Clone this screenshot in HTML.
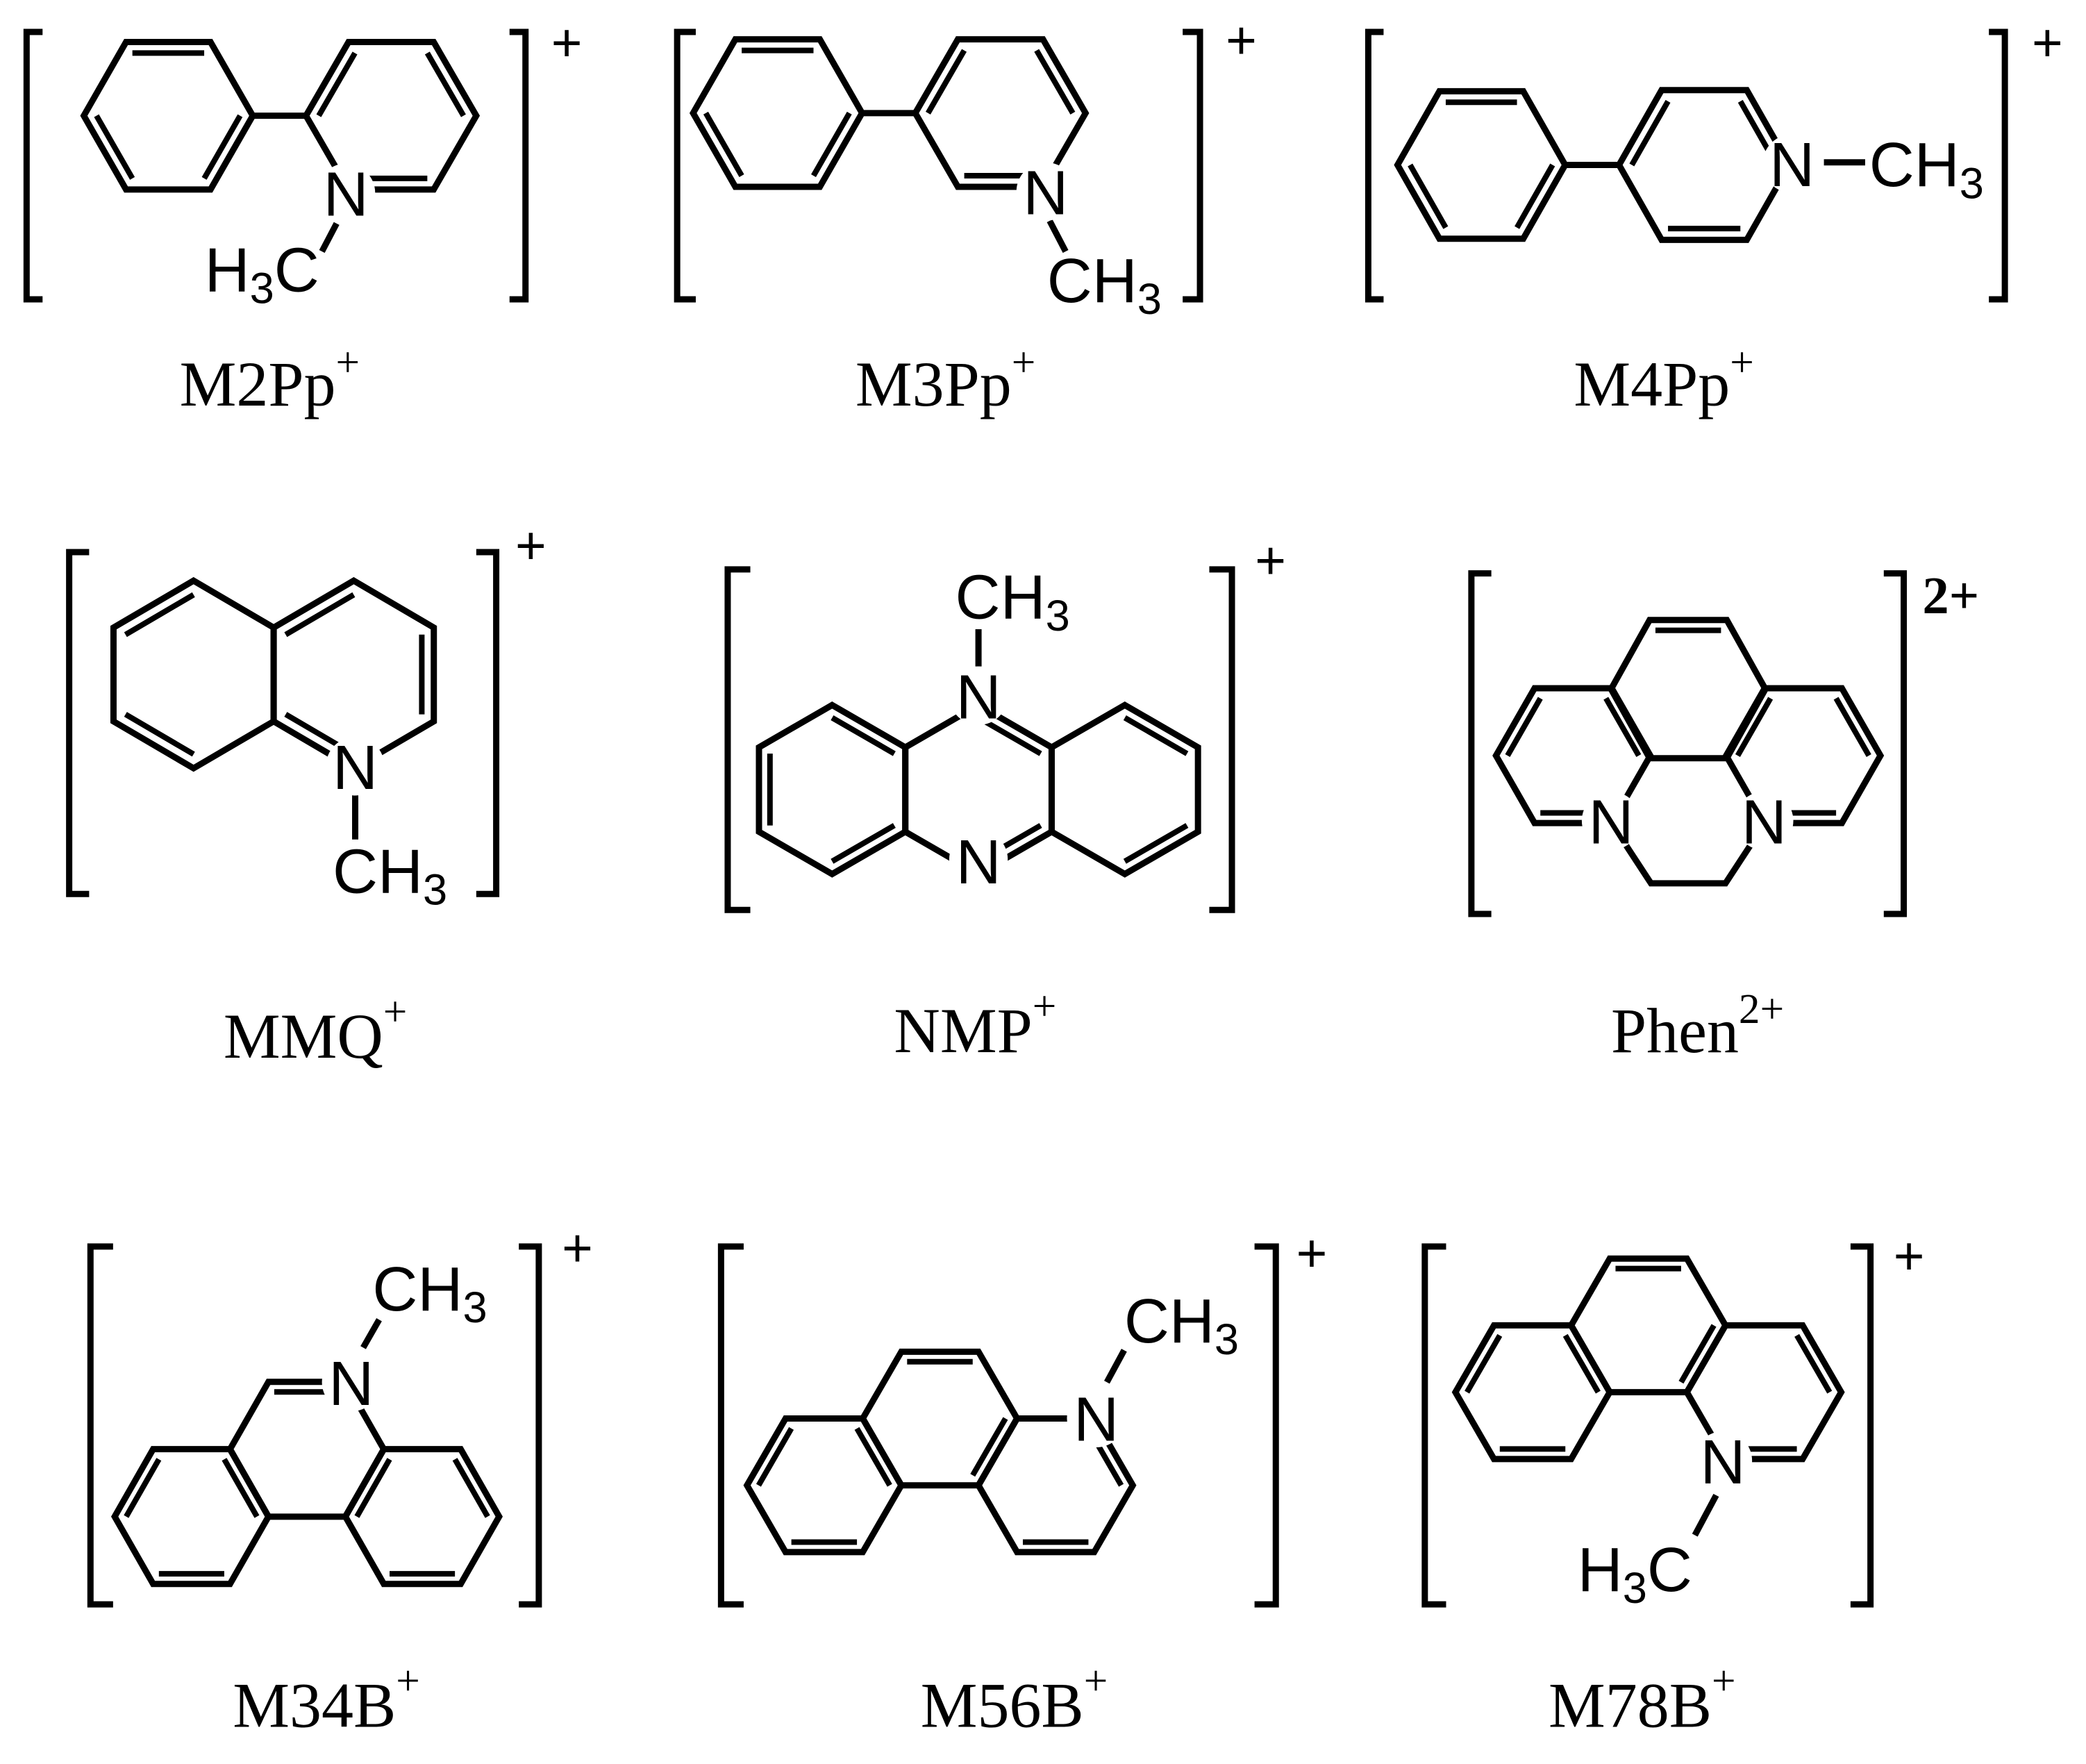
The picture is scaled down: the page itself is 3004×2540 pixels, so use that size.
<!DOCTYPE html>
<html><head><meta charset="utf-8">
<style>
html,body{margin:0;padding:0;background:#fff;}
svg{display:block;}
svg path, svg line{vector-effect:non-scaling-stroke;stroke-width:9px;stroke:#000;fill:none;stroke-linejoin:miter;stroke-linecap:butt;}
svg path.in{stroke-width:8px;}
.a{font-family:"Liberation Sans",Arial,sans-serif;font-size:47px;fill:#000;}
.l{font-family:"Liberation Serif","Times New Roman",serif;font-size:48px;fill:#000;}
.p{font-family:"Liberation Sans",Arial,sans-serif;font-size:40px;fill:#000;}
circle.m{fill:#fff;stroke:none;}
</style></head>
<body>
<svg width="3004" height="2540" viewBox="0 0 1568 1326" preserveAspectRatio="none" xmlns="http://www.w3.org/2000/svg">
<rect x="0" y="0" width="1568" height="1326" fill="#fff"/>

<!-- ============ M2Pp ============ -->
<g transform="translate(126.5,87) scale(63.5,64)">
<path d="M1,0L.5,.866L-.5,.866L-1,0L-.5,-.866L.5,-.866Z"/>
<path class="in" d="M-.425,-.736L.425,-.736M-.425,.736L-.85,0M.85,0L.425,.736"/>
</g>
<g transform="translate(294,87) scale(64,64)">
<path d="M1,0L.5,.866L-.5,.866L-1,0L-.5,-.866L.5,-.866Z"/>
<path class="in" d="M-.85,0L-.425,-.736M.425,-.736L.85,0M.425,.736L-.425,.736"/>
</g>
<line x1="190" y1="87" x2="230" y2="87"/>
<line x1="253" y1="168" x2="242" y2="189"/>
<circle class="m" cx="260" cy="145" r="22"/>
<text class="a" x="260" y="162" text-anchor="middle">N</text>
<text class="a" x="240" y="219" text-anchor="end">H<tspan font-size="33" dy="9">3</tspan><tspan dy="-9">C</tspan></text>
<path d="M32,24H20V225H32M383,24H395V225H383"/>
<text class="p" x="426" y="46" text-anchor="middle">+</text>
<text class="l" x="135" y="305">M2Pp<tspan font-size="32" dy="-22">+</tspan></text>

<!-- ============ M3Pp ============ -->
<g transform="translate(584.5,85) scale(63.5,64)">
<path d="M1,0L.5,.866L-.5,.866L-1,0L-.5,-.866L.5,-.866Z"/>
<path class="in" d="M-.425,-.736L.425,-.736M-.425,.736L-.85,0M.85,0L.425,.736"/>
</g>
<g transform="translate(752,85) scale(64,64)">
<path d="M1,0L.5,.866L-.5,.866L-1,0L-.5,-.866L.5,-.866Z"/>
<path class="in" d="M-.85,0L-.425,-.736M.425,-.736L.85,0M.425,.736L-.425,.736"/>
</g>
<line x1="648" y1="85" x2="688" y2="85"/>
<line x1="789" y1="166" x2="801" y2="189"/>
<circle class="m" cx="786" cy="144" r="22"/>
<text class="a" x="786" y="161" text-anchor="middle">N</text>
<text class="a" x="787" y="227">CH<tspan font-size="33" dy="9">3</tspan></text>
<path d="M523,24H509V225H523M889,24H902V225H889"/>
<text class="p" x="933" y="44" text-anchor="middle">+</text>
<text class="l" x="643" y="305">M3Pp<tspan font-size="32" dy="-22">+</tspan></text>

<!-- ============ M4Pp ============ -->
<g transform="translate(1113.5,124) scale(63,64)">
<path d="M1,0L.5,.866L-.5,.866L-1,0L-.5,-.866L.5,-.866Z"/>
<path class="in" d="M-.425,-.736L.425,-.736M-.425,.736L-.85,0M.85,0L.425,.736"/>
</g>
<g transform="translate(1281,124) scale(64,65)">
<path d="M1,0L.5,.866L-.5,.866L-1,0L-.5,-.866L.5,-.866Z"/>
<path class="in" d="M-.85,0L-.425,-.736M.425,-.736L.85,0M.425,.736L-.425,.736"/>
</g>
<line x1="1176" y1="124" x2="1218" y2="124"/>
<line x1="1371" y1="122" x2="1402" y2="122"/>
<circle class="m" cx="1347" cy="123" r="22"/>
<text class="a" x="1347" y="140" text-anchor="middle">N</text>
<text class="a" x="1405" y="140">CH<tspan font-size="33" dy="9">3</tspan></text>
<path d="M1040,24H1028.5V225H1040M1495,24H1507V225H1495"/>
<text class="p" x="1539" y="46" text-anchor="middle">+</text>
<text class="l" x="1183" y="305">M4Pp<tspan font-size="32" dy="-22">+</tspan></text>

<!-- ============ MMQ ============ -->
<g transform="translate(145.5,507) scale(69.5,70.5)">
<path d="M0,-1L.866,-.5L.866,.5L0,1L-.866,.5L-.866,-.5Z"/>
<path class="in" d="M-.736,-.425L0,-.85M0,.85L-.736,.425"/>
</g>
<g transform="translate(265.9,507) scale(69.5,70.5)">
<path d="M0,-1L.866,-.5L.866,.5L0,1L-.866,.5L-.866,-.5Z"/>
<path class="in" d="M-.736,-.425L0,-.85M.736,-.425L.736,.425M0,.85L-.736,.425"/>
</g>
<line x1="267" y1="596" x2="267" y2="631"/>
<circle class="m" cx="267" cy="576" r="22"/>
<text class="a" x="267" y="593" text-anchor="middle">N</text>
<text class="a" x="250" y="671">CH<tspan font-size="33" dy="9">3</tspan></text>
<path d="M67,415H52V672H67M358,415H373V672H358"/>
<text class="p" x="399" y="424" text-anchor="middle">+</text>
<text class="l" x="168" y="795">MMQ<tspan font-size="32" dy="-24">+</tspan></text>

<!-- ============ NMP ============ -->
<g transform="translate(625.5,593.5) scale(63.5,63.5)">
<path d="M0,-1L.866,-.5L.866,.5L0,1L-.866,.5L-.866,-.5Z"/>
<path class="in" d="M0,-.85L.736,-.425M-.736,.425L-.736,-.425M.736,.425L0,.85"/>
</g>
<g transform="translate(735.5,593.5) scale(63.5,63.5)">
<path d="M0,-1L.866,-.5L.866,.5L0,1L-.866,.5L-.866,-.5Z"/>
<path class="in" d="M0,-.85L.736,-.425M.736,.425L0,.85"/>
</g>
<g transform="translate(845.5,593.5) scale(63.5,63.5)">
<path d="M0,-1L.866,-.5L.866,.5L0,1L-.866,.5L-.866,-.5Z"/>
<path class="in" d="M0,-.85L.736,-.425M.736,.425L0,.85"/>
</g>
<line x1="735.5" y1="473" x2="735.5" y2="501"/>
<circle class="m" cx="735.5" cy="523" r="22"/>
<circle class="m" cx="735.5" cy="646" r="22"/>
<text class="a" x="735.5" y="540" text-anchor="middle">N</text>
<text class="a" x="735.5" y="664" text-anchor="middle">N</text>
<text class="a" x="718" y="465">CH<tspan font-size="33" dy="9">3</tspan></text>
<path d="M564,428H547V684H564M909,428H926V684H909"/>
<text class="p" x="955" y="435" text-anchor="middle">+</text>
<text class="l" x="672" y="791">NMP<tspan font-size="32" dy="-24">+</tspan></text>

<!-- ============ Phen ============ -->
<g transform="translate(1269,518) scale(58,60)">
<path d="M1,0L.5,.866L-.5,.866L-1,0L-.5,-.866L.5,-.866Z"/>
<path class="in" d="M-.425,-.736L.425,-.736"/>
</g>
<g transform="translate(1182.5,568) scale(58,58.5)">
<path d="M1,0L.5,.866L-.5,.866L-1,0L-.5,-.866L.5,-.866Z"/>
<path class="in" d="M-.85,0L-.425,-.736M.425,-.736L.85,0M.425,.736L-.425,.736"/>
</g>
<g transform="translate(1355.5,568) scale(58,58.5)">
<path d="M1,0L.5,.866L-.5,.866L-1,0L-.5,-.866L.5,-.866Z"/>
<path class="in" d="M-.85,0L-.425,-.736M.425,-.736L.85,0M.425,.736L-.425,.736"/>
</g>
<path d="M1211.5,619L1241,664L1297,664L1326.5,619"/>
<circle class="m" cx="1211" cy="617" r="22"/>
<circle class="m" cx="1326" cy="617" r="22"/>
<text class="a" x="1211" y="634" text-anchor="middle">N</text>
<text class="a" x="1326" y="634" text-anchor="middle">N</text>
<path d="M1121,431H1106V687H1121M1416,431H1431V687H1416"/>
<text x="1445" y="461" font-family="'Liberation Serif',serif" font-weight="bold" font-size="40">2+</text>
<text class="l" x="1211" y="791">Phen<tspan font-size="32" dy="-22">2+</tspan></text>

<!-- ============ M34B ============ -->
<g transform="translate(144,1140) scale(57.8,58.5)">
<path d="M1,0L.5,.866L-.5,.866L-1,0L-.5,-.866L.5,-.866Z"/>
<path class="in" d="M-.85,0L-.425,-.736M.425,-.736L.85,0M.425,.736L-.425,.736"/>
</g>
<g transform="translate(317.4,1140) scale(57.8,58.5)">
<path d="M1,0L.5,.866L-.5,.866L-1,0L-.5,-.866L.5,-.866Z"/>
<path class="in" d="M-.85,0L-.425,-.736M.425,-.736L.85,0M.425,.736L-.425,.736"/>
</g>
<g transform="translate(230.7,1089.4) scale(57.8,58.5)">
<path d="M1,0L.5,.866L-.5,.866L-1,0L-.5,-.866L.5,-.866Z"/>
<path class="in" d="M-.425,-.736L.425,-.736"/>
</g>
<line x1="273" y1="1013" x2="285" y2="992"/>
<circle class="m" cx="264" cy="1039" r="22"/>
<text class="a" x="264" y="1056" text-anchor="middle">N</text>
<text class="a" x="280" y="985">CH<tspan font-size="33" dy="9">3</tspan></text>
<path d="M85,937H68V1206H85M390,937H405V1206H390"/>
<text class="p" x="434" y="952" text-anchor="middle">+</text>
<text class="l" x="175" y="1298">M34B<tspan font-size="32" dy="-24">+</tspan></text>

<!-- ============ M56B ============ -->
<g transform="translate(619.5,1116.5) scale(58,58)">
<path d="M1,0L.5,.866L-.5,.866L-1,0L-.5,-.866L.5,-.866Z"/>
<path class="in" d="M-.85,0L-.425,-.736M.425,-.736L.85,0M.425,.736L-.425,.736"/>
</g>
<g transform="translate(706.5,1066.3) scale(58,58)">
<path d="M1,0L.5,.866L-.5,.866L-1,0L-.5,-.866L.5,-.866Z"/>
<path class="in" d="M-.425,-.736L.425,-.736M.85,0L.425,.736"/>
</g>
<g transform="translate(793.5,1116.5) scale(58,58)">
<path d="M1,0L.5,.866L-.5,.866L-1,0L-.5,-.866L.5,-.866Z"/>
<path class="in" d="M.425,-.736L.85,0M.425,.736L-.425,.736"/>
</g>
<line x1="832" y1="1039" x2="845" y2="1015"/>
<circle class="m" cx="824" cy="1066" r="22"/>
<text class="a" x="824" y="1083" text-anchor="middle">N</text>
<text class="a" x="845" y="1009">CH<tspan font-size="33" dy="9">3</tspan></text>
<path d="M559,937H542V1206H559M943,937H959V1206H943"/>
<text class="p" x="986" y="956" text-anchor="middle">+</text>
<text class="l" x="692" y="1298">M56B<tspan font-size="32" dy="-24">+</tspan></text>

<!-- ============ M78B ============ -->
<g transform="translate(1152,1046.5) scale(58,58)">
<path d="M1,0L.5,.866L-.5,.866L-1,0L-.5,-.866L.5,-.866Z"/>
<path class="in" d="M-.85,0L-.425,-.736M.425,-.736L.85,0M.425,.736L-.425,.736"/>
</g>
<g transform="translate(1239,996.3) scale(58,58)">
<path d="M1,0L.5,.866L-.5,.866L-1,0L-.5,-.866L.5,-.866Z"/>
<path class="in" d="M-.425,-.736L.425,-.736M.85,0L.425,.736"/>
</g>
<g transform="translate(1326,1046.5) scale(58,58)">
<path d="M1,0L.5,.866L-.5,.866L-1,0L-.5,-.866L.5,-.866Z"/>
<path class="in" d="M.425,-.736L.85,0M.425,.736L-.425,.736"/>
</g>
<line x1="1290" y1="1124" x2="1274" y2="1154"/>
<circle class="m" cx="1295" cy="1098" r="22"/>
<text class="a" x="1295" y="1115" text-anchor="middle">N</text>
<text class="a" x="1272" y="1196" text-anchor="end">H<tspan font-size="33" dy="9">3</tspan><tspan dy="-9">C</tspan></text>
<path d="M1087,937H1071V1206H1087M1391,937H1406V1206H1391"/>
<text class="p" x="1435" y="958" text-anchor="middle">+</text>
<text class="l" x="1164" y="1298">M78B<tspan font-size="32" dy="-24">+</tspan></text>
</svg>
</body></html>
